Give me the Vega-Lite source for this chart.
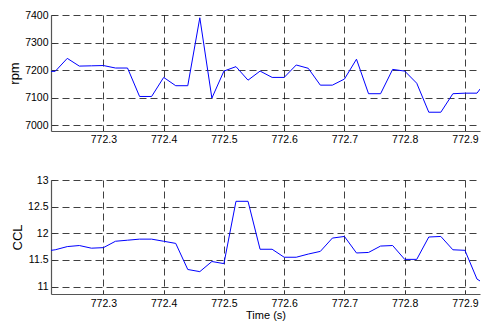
{
  "$schema": "https://vega.github.io/schema/vega-lite/v6.json",
  "padding": {"left": 8, "top": 10, "right": 5, "bottom": 0},
  "spacing": 30,
  "background": "white",
  "datasets": {
    "d": [
      {"t": 772.20, "rpm": 7196, "ccl": 11.66},
      {"t": 772.22, "rpm": 7196, "ccl": 11.69},
      {"t": 772.24, "rpm": 7243, "ccl": 11.75},
      {"t": 772.26, "rpm": 7215, "ccl": 11.77},
      {"t": 772.28, "rpm": 7216, "ccl": 11.72},
      {"t": 772.30, "rpm": 7217, "ccl": 11.73},
      {"t": 772.32, "rpm": 7208, "ccl": 11.85},
      {"t": 772.34, "rpm": 7208, "ccl": 11.87},
      {"t": 772.36, "rpm": 7105, "ccl": 11.89},
      {"t": 772.38, "rpm": 7105, "ccl": 11.89},
      {"t": 772.40, "rpm": 7174, "ccl": 11.85},
      {"t": 772.42, "rpm": 7144, "ccl": 11.81},
      {"t": 772.44, "rpm": 7144, "ccl": 11.32},
      {"t": 772.46, "rpm": 7390, "ccl": 11.28},
      {"t": 772.48, "rpm": 7099, "ccl": 11.47},
      {"t": 772.50, "rpm": 7197, "ccl": 11.43},
      {"t": 772.52, "rpm": 7213, "ccl": 12.60},
      {"t": 772.54, "rpm": 7164, "ccl": 12.60},
      {"t": 772.56, "rpm": 7197, "ccl": 11.70},
      {"t": 772.58, "rpm": 7174, "ccl": 11.70},
      {"t": 772.60, "rpm": 7174, "ccl": 11.55},
      {"t": 772.62, "rpm": 7219, "ccl": 11.55},
      {"t": 772.64, "rpm": 7207, "ccl": 11.61},
      {"t": 772.66, "rpm": 7146, "ccl": 11.66},
      {"t": 772.68, "rpm": 7146, "ccl": 11.91},
      {"t": 772.70, "rpm": 7168, "ccl": 11.94},
      {"t": 772.72, "rpm": 7240, "ccl": 11.63},
      {"t": 772.74, "rpm": 7115, "ccl": 11.64},
      {"t": 772.76, "rpm": 7115, "ccl": 11.76},
      {"t": 772.78, "rpm": 7203, "ccl": 11.77},
      {"t": 772.80, "rpm": 7197, "ccl": 11.51},
      {"t": 772.82, "rpm": 7153, "ccl": 11.51},
      {"t": 772.84, "rpm": 7048, "ccl": 11.93},
      {"t": 772.86, "rpm": 7048, "ccl": 11.94},
      {"t": 772.88, "rpm": 7115, "ccl": 11.69},
      {"t": 772.90, "rpm": 7117, "ccl": 11.68},
      {"t": 772.92, "rpm": 7117, "ccl": 11.14},
      {"t": 772.94, "rpm": 7175, "ccl": 11.0}
    ]
  },
  "config": {
    "view": {"stroke": null},
    "axis": {
      "labelFont": "Liberation Sans",
      "labelFontSize": 10.5,
      "labelColor": "#000",
      "titleFont": "Liberation Sans",
      "titleFontWeight": "normal",
      "titleColor": "#000",
      "domainColor": "#555",
      "domainWidth": 1.2,
      "tickColor": "#333",
      "tickSize": -4,
      "labelPadding": 7,
      "grid": true,
      "gridColor": "#000",
      "gridOpacity": 0.75,
      "gridDash": [7, 4],
      "gridWidth": 1
    }
  },
  "vconcat": [
    {
      "width": 429,
      "height": 116,
      "data": {"name": "d"},
      "mark": {"type": "line", "color": "#0000ff", "strokeWidth": 1, "clip": true},
      "encoding": {
        "x": {"field": "t", "type": "quantitative",
              "scale": {"domain": [772.213, 772.925], "nice": false, "zero": false},
              "axis": {"title": null, "values": [772.3, 772.4, 772.5, 772.6, 772.7, 772.8, 772.9], "format": ".1f"}},
        "y": {"field": "rpm", "type": "quantitative",
              "scale": {"domain": [6980, 7400], "nice": false, "zero": false},
              "axis": {"title": "rpm", "titleFontSize": 13, "titlePadding": 3, "values": [7000, 7100, 7200, 7300, 7400], "format": "d"}}
      }
    },
    {
      "width": 429,
      "height": 114,
      "data": {"name": "d"},
      "mark": {"type": "line", "color": "#0000ff", "strokeWidth": 1, "clip": true},
      "encoding": {
        "x": {"field": "t", "type": "quantitative",
              "scale": {"domain": [772.213, 772.925], "nice": false, "zero": false},
              "axis": {"title": "Time (s)", "titleFontSize": 11, "titlePadding": 1, "labelPadding": 8, "values": [772.3, 772.4, 772.5, 772.6, 772.7, 772.8, 772.9], "format": ".1f"}},
        "y": {"field": "ccl", "type": "quantitative",
              "scale": {"domain": [10.86, 13], "nice": false, "zero": false},
              "axis": {"title": "CCL", "titleFontSize": 13, "titlePadding": 3, "values": [11, 11.5, 12, 12.5, 13], "format": "~g"}}
      }
    }
  ]
}
